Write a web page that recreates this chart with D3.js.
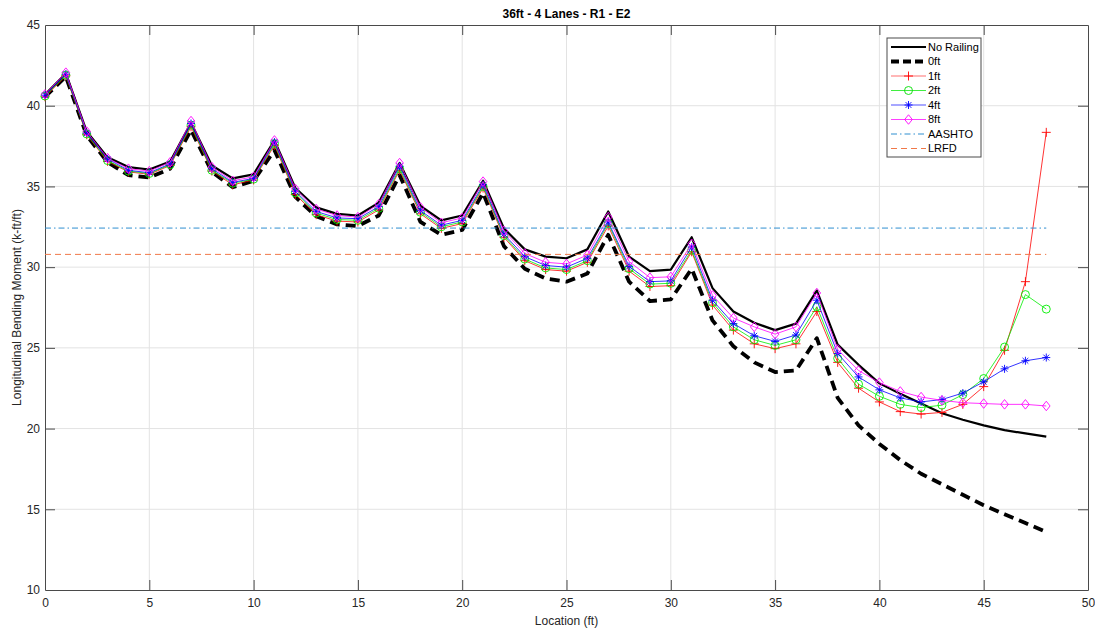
<!DOCTYPE html>
<html>
<head>
<meta charset="utf-8">
<script src="https://cdn.jsdelivr.net/npm/d3@7"></script>
<style>
  body { margin: 0; background: #fff; }
  svg { display: block; font-family: "Liberation Sans", Arial, Helvetica, sans-serif; }
</style>
</head>
<body>
<svg id="chart" width="1095" height="630"></svg>
<script>
const locations = d3.range(0, 49);
const xTicks = [0, 5, 10, 15, 20, 25, 30, 35, 40, 45, 50];
const yTicks = [10, 15, 20, 25, 30, 35, 40, 45];

const noRailing = [40.7, 42.0, 38.4, 36.8, 36.2, 36.05, 36.55, 38.95, 36.3, 35.5, 35.75, 37.85, 34.9,
  33.7, 33.3, 33.2, 34.0, 36.45, 33.8, 32.9, 33.2, 35.35, 32.4, 31.1, 30.65, 30.55, 31.1,
  33.45, 30.65, 29.75, 29.85, 31.85, 28.7, 27.25, 26.55, 26.1, 26.5, 28.55, 25.2, 23.95,
  22.8, 22.15, 21.55, 20.95, 20.55, 20.2, 19.9, 19.7, 19.5];
const rail0ft = [40.55, 41.8, 38.15, 36.5, 35.7, 35.55, 36.1, 38.5, 35.9, 34.95, 35.35, 37.25, 34.35,
  33.15, 32.65, 32.55, 33.2, 35.7, 32.8, 32.0, 32.3, 34.6, 31.3, 29.9, 29.3, 29.1, 29.6,
  32.0, 29.1, 27.9, 28.0, 29.9, 26.7, 25.1, 24.1, 23.5, 23.6, 25.6, 21.9, 20.2,
  19.05, 18.05, 17.2, 16.55, 15.9, 15.25, 14.7, 14.15, 13.6];
const rail1ft = [40.55, 41.85, 38.2, 36.55, 35.9, 35.75, 36.3, 38.7, 35.95, 35.1, 35.4, 37.55, 34.5,
  33.25, 32.85, 32.8, 33.55, 36.0, 33.3, 32.4, 32.7, 34.9, 31.85, 30.4, 29.85, 29.75, 30.3,
  32.55, 29.75, 28.8, 28.85, 30.95, 27.65, 26.1, 25.25, 24.95, 25.25, 27.25, 24.1, 22.5,
  21.65, 21.05, 20.9, 21.0, 21.5, 22.6, 24.85, 29.1, 38.35];
const rail2ft = [40.6, 41.9, 38.25, 36.6, 35.95, 35.8, 36.35, 38.8, 36.0, 35.2, 35.45, 37.65, 34.6,
  33.35, 32.95, 32.9, 33.65, 36.1, 33.4, 32.5, 32.8, 35.0, 31.95, 30.5, 29.95, 29.85, 30.4,
  32.7, 29.9, 28.95, 29.0, 31.05, 27.8, 26.3, 25.5, 25.15, 25.5, 27.55, 24.35, 22.75,
  22.0, 21.5, 21.3, 21.45, 22.1, 23.1, 25.05, 28.3, 27.4];
const rail4ft = [40.65, 41.95, 38.3, 36.7, 36.0, 35.85, 36.4, 38.9, 36.1, 35.25, 35.5, 37.75, 34.7,
  33.45, 33.05, 33.0, 33.75, 36.25, 33.5, 32.6, 32.9, 35.1, 32.05, 30.65, 30.1, 30.0, 30.55,
  32.8, 30.05, 29.1, 29.15, 31.25, 27.95, 26.5, 25.75, 25.4, 25.8, 27.95, 24.65, 23.2,
  22.4, 21.9, 21.65, 21.8, 22.2, 22.9, 23.7, 24.2, 24.4];
const rail8ft = [40.7, 42.05, 38.4, 36.75, 36.1, 35.95, 36.5, 39.05, 36.2, 35.35, 35.6, 37.85, 34.85,
  33.6, 33.2, 33.1, 33.9, 36.45, 33.7, 32.75, 33.05, 35.3, 32.25, 30.85, 30.3, 30.2, 30.75,
  33.1, 30.35, 29.35, 29.4, 31.45, 28.25, 26.85, 26.3, 25.85, 26.3, 28.4, 24.9, 23.6,
  22.85, 22.3, 21.95, 21.75, 21.6, 21.55, 21.5, 21.5, 21.4];
const aashto = 32.42;
const lrfd = 30.79;
const limitRange = [0, 48];

const seriesNames = ["No Railing", "0ft", "1ft", "2ft", "4ft", "8ft", "AASHTO", "LRFD"];

const svg = d3.select("#chart");
const L = 45, R = 1088, T = 25, B = 590;
const x = d3.scaleLinear().domain([0, 50]).range([L, R]);
const y = d3.scaleLinear().domain([10, 45]).range([B, T]);
const axisColor = "#4a4a4a";
const textColor = "#262626";

// grid
svg.append("g").selectAll("line").data(xTicks.slice(1, -1)).join("line")
  .attr("x1", d => x(d)).attr("x2", d => x(d)).attr("y1", T).attr("y2", B)
  .attr("stroke", "#e3e3e3").attr("stroke-width", 1);
svg.append("g").selectAll("line").data(yTicks.slice(1, -1)).join("line")
  .attr("y1", d => y(d)).attr("y2", d => y(d)).attr("x1", L).attr("x2", R)
  .attr("stroke", "#e3e3e3").attr("stroke-width", 1);

// axes
const tickLen = 10;
const xAxisB = svg.append("g").attr("transform", `translate(0,${B})`)
  .call(d3.axisBottom(x).tickValues(xTicks).tickSizeInner(-tickLen).tickSizeOuter(0).tickPadding(6));
const xAxisT = svg.append("g").attr("transform", `translate(0,${T})`)
  .call(d3.axisTop(x).tickValues(xTicks).tickSizeInner(-tickLen).tickSizeOuter(0).tickFormat(""));
const yAxisL = svg.append("g").attr("transform", `translate(${L},0)`)
  .call(d3.axisLeft(y).tickValues(yTicks).tickSizeInner(-tickLen).tickSizeOuter(0).tickPadding(5));
const yAxisR = svg.append("g").attr("transform", `translate(${R},0)`)
  .call(d3.axisRight(y).tickValues(yTicks).tickSizeInner(-tickLen).tickSizeOuter(0).tickFormat(""));
[xAxisB, xAxisT, yAxisL, yAxisR].forEach(g => {
  g.select(".domain").attr("stroke", axisColor).attr("stroke-width", 1);
  g.selectAll(".tick line").attr("stroke", axisColor).attr("stroke-width", 1);
  g.selectAll(".tick text").attr("fill", textColor).attr("font-size", 12)
    .attr("font-family", "Liberation Sans, Arial, sans-serif");
});
xAxisB.selectAll(".tick text").attr("dy", "0.9em");
// remove ticks at corners (box edge)
[xAxisB, xAxisT].forEach(g => g.selectAll(".tick line").filter(d => d === 0 || d === 50).remove());
[yAxisL, yAxisR].forEach(g => g.selectAll(".tick line").filter(d => d === 10 || d === 45).remove());

// labels
svg.append("text").attr("x", (L + R) / 2).attr("y", 18).attr("text-anchor", "middle")
  .attr("font-size", 12).attr("font-weight", "bold").attr("fill", "#000")
  .text("36ft - 4 Lanes - R1 - E2");
svg.append("text").attr("x", (L + R) / 2).attr("y", 625).attr("text-anchor", "middle")
  .attr("font-size", 12).attr("fill", textColor).text("Location (ft)");
svg.append("text").attr("transform", `translate(21,${(T + B) / 2}) rotate(-90)`)
  .attr("text-anchor", "middle").attr("font-size", 12).attr("fill", textColor)
  .text("Longitudinal Bending Moment (k-ft/ft)");

const line = d3.line().x((d, i) => x(locations[i])).y(d => y(d));
const plot = svg.append("g");

function symbolPath(kind, s) {
  if (kind === "plus") return `M${-s},0H${s}M0,${-s}V${s}`;
  if (kind === "circle") return d3.symbol().type(d3.symbolCircle).size(Math.PI * s * s)();
  if (kind === "star") {
    const d = s * 0.72;
    return `M${-s},0H${s}M0,${-s}V${s}M${-d},${-d}L${d},${d}M${-d},${d}L${d},${-d}`;
  }
  if (kind === "diamond") return `M0,${-s * 1.25}L${s},0L0,${s * 1.25}L${-s},0Z`;
  return "";
}

const styles = [
  { data: noRailing, color: "#000", width: 2.2, dash: null, marker: null },
  { data: rail0ft, color: "#000", width: 3.8, dash: "10,6", marker: null },
  { data: rail1ft, color: "#ff0000", width: 0.8, dash: null, marker: "plus", ms: 4.5 },
  { data: rail2ft, color: "#00ee00", width: 0.8, dash: null, marker: "circle", ms: 4 },
  { data: rail4ft, color: "#0000ff", width: 0.8, dash: null, marker: "star", ms: 4 },
  { data: rail8ft, color: "#ff00ff", width: 0.8, dash: null, marker: "diamond", ms: 3.8 },
];

styles.forEach(s => {
  plot.append("path").datum(s.data).attr("d", line).attr("fill", "none")
    .attr("stroke", s.color).attr("stroke-width", s.width)
    .attr("stroke-dasharray", s.dash).attr("stroke-linejoin", "round");
  if (s.marker) {
    plot.append("g").selectAll("path").data(s.data).join("path")
      .attr("transform", (d, i) => `translate(${x(locations[i])},${y(d)})`)
      .attr("d", symbolPath(s.marker, s.ms)).attr("fill", "none")
      .attr("stroke", s.color).attr("stroke-width", 0.9);
  }
});

// reference lines
plot.append("line").attr("x1", x(limitRange[0])).attr("x2", x(limitRange[1]))
  .attr("y1", y(aashto)).attr("y2", y(aashto))
  .attr("stroke", "#2f8fd0").attr("stroke-width", 1).attr("stroke-dasharray", "6,3,1.5,3");
plot.append("line").attr("x1", x(limitRange[0])).attr("x2", x(limitRange[1]))
  .attr("y1", y(lrfd)).attr("y2", y(lrfd))
  .attr("stroke", "#f07848").attr("stroke-width", 1).attr("stroke-dasharray", "6,4");

// legend
const legX = 887, legY = 38, legW = 94, legH = 119, rowH = 14.5;
const leg = svg.append("g");
leg.append("rect").attr("x", legX).attr("y", legY).attr("width", legW).attr("height", legH)
  .attr("fill", "#fff").attr("stroke", "#4a4a4a").attr("stroke-width", 1);
const legStyles = [
  { color: "#000", width: 2.2, dash: null, marker: null },
  { color: "#000", width: 3.8, dash: "8,4", marker: null },
  { color: "#ff7070", width: 1.2, dash: null, marker: "plus", mc: "#ff0000", ms: 4.5 },
  { color: "#40ee40", width: 1.2, dash: null, marker: "circle", mc: "#00dd00", ms: 4 },
  { color: "#5050ff", width: 1.2, dash: null, marker: "star", mc: "#0000ff", ms: 4 },
  { color: "#ff40ff", width: 1.2, dash: null, marker: "diamond", mc: "#ff00ff", ms: 3.8 },
  { color: "#2f8fd0", width: 1, dash: "6,3,1.5,3", marker: null },
  { color: "#f07848", width: 1, dash: "6,4", marker: null },
];
seriesNames.forEach((name, i) => {
  const cy = legY + 9 + i * rowH;
  const st = legStyles[i];
  leg.append("line").attr("x1", 891).attr("x2", 926).attr("y1", cy).attr("y2", cy)
    .attr("stroke", st.color).attr("stroke-width", st.width).attr("stroke-dasharray", st.dash);
  if (st.marker) {
    leg.append("path").attr("transform", `translate(908.5,${cy})`)
      .attr("d", symbolPath(st.marker, st.ms)).attr("fill", "none")
      .attr("stroke", st.mc).attr("stroke-width", 0.9);
  }
  leg.append("text").attr("x", 928).attr("y", cy).attr("dy", "0.35em")
    .attr("font-size", 11).attr("fill", "#000").text(name);
});
</script>
</body>
</html>
